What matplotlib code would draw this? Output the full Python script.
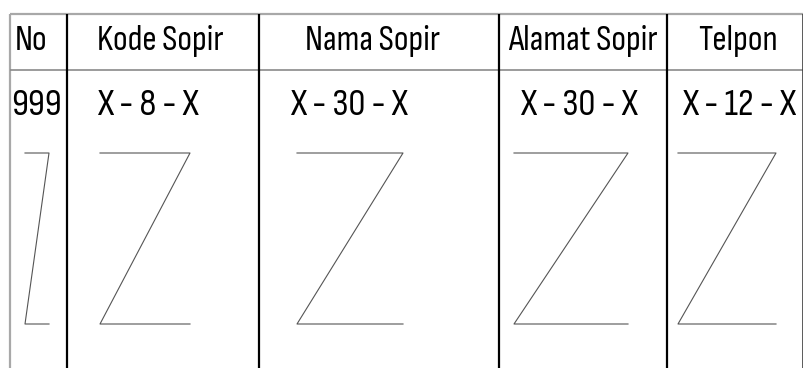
import matplotlib
matplotlib.use("Agg")
import matplotlib.pyplot as plt

headers = ["No", "Kode Sopir", "Nama Sopir", "Alamat Sopir", "Telpon"]
values = ["999", "X - 8 - X", "X - 30 - X", "X - 30 - X", "X - 12 - X"]

# layout (pixels from top-left)
col_edges = [10, 67, 259, 499, 667, 803]
header_cx = [31, 160, 373, 583, 738]
value_x = [11, 97, 290, 520, 682]
z_left = [25, 100, 297, 514, 678]
z_right = [49, 190, 403, 628, 776]
z_top, z_bot = 153, 324
top_y, head_y, bottom_y = 14, 70, 368

FONT = ["Sofia Sans Condensed", "Roboto Condensed", "DejaVu Sans"]

fig = plt.figure(figsize=(8.04, 3.68), dpi=100)
ax = fig.add_axes([0, 0, 1, 1])
ax.set_xlim(0, 804)
ax.set_ylim(368, 0)
ax.axis("off")

grey = "#a8a8a8"
# outer borders
ax.plot([col_edges[0], col_edges[0]], [top_y, bottom_y], color=grey, lw=1.6, solid_capstyle="butt")
ax.plot([col_edges[0], col_edges[-1]], [top_y, top_y], color=grey, lw=1.6, solid_capstyle="butt")
ax.plot([col_edges[0], col_edges[-1]], [head_y, head_y], color="#8a8a8a", lw=1.2, solid_capstyle="butt")
ax.plot([col_edges[-1], col_edges[-1]], [top_y, bottom_y], color="#404040", lw=1.2, solid_capstyle="butt")
for x in col_edges[1:-1]:
    ax.plot([x, x], [top_y, bottom_y], color="black", lw=1.6, solid_capstyle="butt")

for i, (h, v) in enumerate(zip(headers, values)):
    ax.text(header_cx[i], 50, h, ha="center", va="baseline", fontsize=25.5,
            family=FONT, color="black")
    ax.text(value_x[i], 115, v, ha="left", va="baseline", fontsize=27.5,
            family=FONT, color="black")
    xs = [z_left[i], z_right[i], z_left[i], z_right[i]]
    ys = [z_top, z_top, z_bot, z_bot]
    ax.plot(xs, ys, color="#555555", lw=0.8)

fig.savefig("out.png", dpi=100)
